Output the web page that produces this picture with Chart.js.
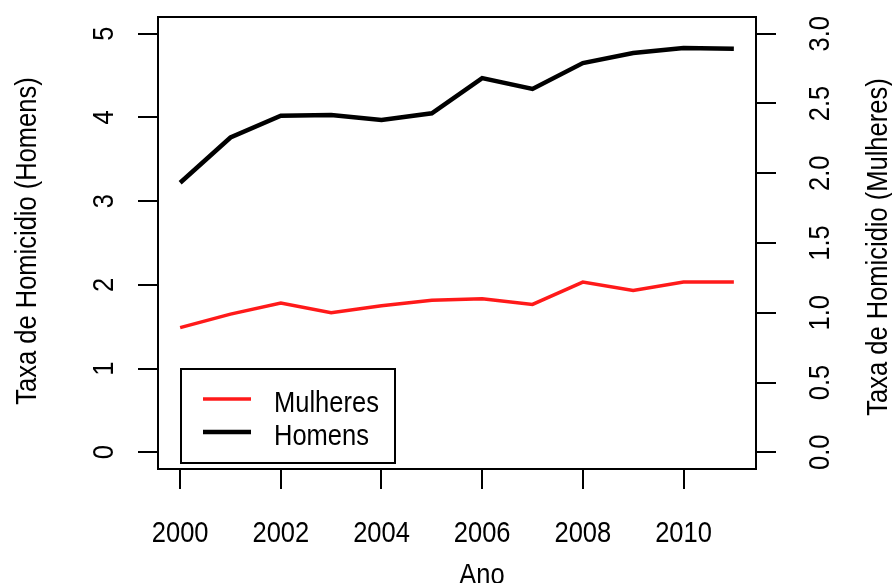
<!DOCTYPE html>
<html><head><meta charset="utf-8">
<script src="https://cdn.jsdelivr.net/npm/chart.js@4/dist/chart.umd.min.js"></script>
<style>html,body{margin:0;padding:0;background:#fff}#wrap{width:892px;height:583px}</style>
</head><body><div id="wrap"><canvas id="c" width="892" height="583"></canvas></div>
<script>
// ---- data ----
const anos = [2000, 2001, 2002, 2003, 2004, 2005, 2006, 2007, 2008, 2009, 2010, 2011];
const homens = [3.22, 3.76, 4.02, 4.03, 3.97, 4.05, 4.47, 4.34, 4.65, 4.77, 4.83, 4.82];
const mulheres = [0.893, 0.99, 1.07, 1.00, 1.05, 1.09, 1.10, 1.06, 1.22, 1.16, 1.22, 1.22];
const xTicks = [2000, 2002, 2004, 2006, 2008, 2010];
const xLabels = ['2000', '2002', '2004', '2006', '2008', '2010'];
const yTicksHomens = [0, 1, 2, 3, 4, 5];
const yLabelsHomens = ['0', '1', '2', '3', '4', '5'];
const yTicksMulheres = [0, 0.5, 1, 1.5, 2, 2.5, 3];
const yLabelsMulheres = ['0.0', '0.5', '1.0', '1.5', '2.0', '2.5', '3.0'];
const seriesNames = ['Mulheres', 'Homens'];
const xTitle = 'Ano';
const yTitleLeft = 'Taxa de Homicidio (Homens)';
const yTitleRight = 'Taxa de Homicidio (Mulheres)';

// ---- font ----
const FAMILY = '"Liberation Sans", Arial, sans-serif';
const SIZE = 25.5;
const STRETCH = 1.17;

const tickGrid = { drawOnChartArea: false, drawTicks: true, tickLength: 20, color: '#000', lineWidth: 2 };

const rPlot = {
  id: 'rplot',
  afterDraw(chart) {
    const { ctx, chartArea: a, scales } = chart;
    ctx.save();
    ctx.strokeStyle = '#000';
    ctx.lineWidth = 2;
    ctx.strokeRect(a.left, a.top, a.right - a.left, a.bottom - a.top);
    ctx.fillStyle = '#000';
    ctx.font = SIZE + 'px ' + FAMILY;
    ctx.textBaseline = 'alphabetic';
    const txt = (x, y, t, align, rotate) => {
      ctx.save(); ctx.translate(x, y);
      if (rotate) ctx.rotate(-Math.PI / 2);
      ctx.scale(1, STRETCH);
      ctx.textAlign = align;
      ctx.fillText(t, 0, 0); ctx.restore();
    };
    scales.x.ticks.forEach(t => txt(scales.x.getPixelForValue(t.value), 542, xLabels[xTicks.indexOf(t.value)], 'center', false));
    scales.y.ticks.forEach(t => txt(a.left - 45, scales.y.getPixelForValue(t.value), yLabelsHomens[yTicksHomens.indexOf(t.value)], 'center', true));
    scales.y1.ticks.forEach(t => txt(a.right + 73, scales.y1.getPixelForValue(t.value), yLabelsMulheres[yTicksMulheres.indexOf(t.value)], 'center', true));
    const midY = (a.top + a.bottom) / 2 - 2;
    txt(36, midY, yTitleLeft, 'center', true);
    txt(887, midY + 6, yTitleRight, 'center', true);
    txt(a.left + 324, 584, xTitle, 'center', false);
    // legend
    const lx = a.left + 23, lb = a.bottom - 6, lt = lb - 94;
    ctx.lineWidth = 2;
    ctx.strokeRect(lx, lt, 214, 94);
    const ds = chart.data.datasets;
    const rows = [{ ds: ds[1], y: lt + 30 }, { ds: ds[0], y: lt + 63 }];
    rows.forEach(r => {
      ctx.strokeStyle = r.ds.borderColor;
      ctx.lineWidth = r.ds.borderWidth;
      ctx.beginPath(); ctx.moveTo(lx + 22, r.y); ctx.lineTo(lx + 70, r.y); ctx.stroke();
      txt(lx + 93, r.y + 13, r.ds.label, 'left', false);
    });
    ctx.restore();
  }
};

new Chart(document.getElementById('c'), {
  type: 'line',
  data: {
    datasets: [
      { label: seriesNames[1], data: anos.map((x, i) => ({ x, y: homens[i] })), yAxisID: 'y', borderColor: '#000000', borderWidth: 4.5, pointRadius: 0, tension: 0, fill: false },
      { label: seriesNames[0], data: anos.map((x, i) => ({ x, y: mulheres[i] })), yAxisID: 'y1', borderColor: '#ff1a1a', borderWidth: 3.5, pointRadius: 0, tension: 0, fill: false }
    ]
  },
  options: {
    responsive: false,
    animation: false,
    events: [],
    layout: { padding: { top: 17, left: 0, right: 0, bottom: 0 } },
    plugins: { legend: { display: false }, tooltip: { enabled: false } },
    scales: {
      x: {
        type: 'linear', min: 1999.56, max: 2011.44,
        afterBuildTicks: s => { s.ticks = xTicks.map(v => ({ value: v })); },
        afterFit: s => { s.height = 114; },
        grid: tickGrid,
        border: { display: false },
        ticks: { display: false }
      },
      y: {
        type: 'linear', position: 'left', min: -0.2, max: 5.2,
        afterBuildTicks: s => { s.ticks = yTicksHomens.map(v => ({ value: v })); },
        afterFit: s => { s.width = 158; },
        grid: tickGrid,
        border: { display: false },
        ticks: { display: false }
      },
      y1: {
        type: 'linear', position: 'right', min: -0.12, max: 3.12,
        afterBuildTicks: s => { s.ticks = yTicksMulheres.map(v => ({ value: v })); },
        afterFit: s => { s.width = 136; },
        grid: tickGrid,
        border: { display: false },
        ticks: { display: false }
      }
    }
  },
  plugins: [rPlot]
});
</script>
</body></html>
